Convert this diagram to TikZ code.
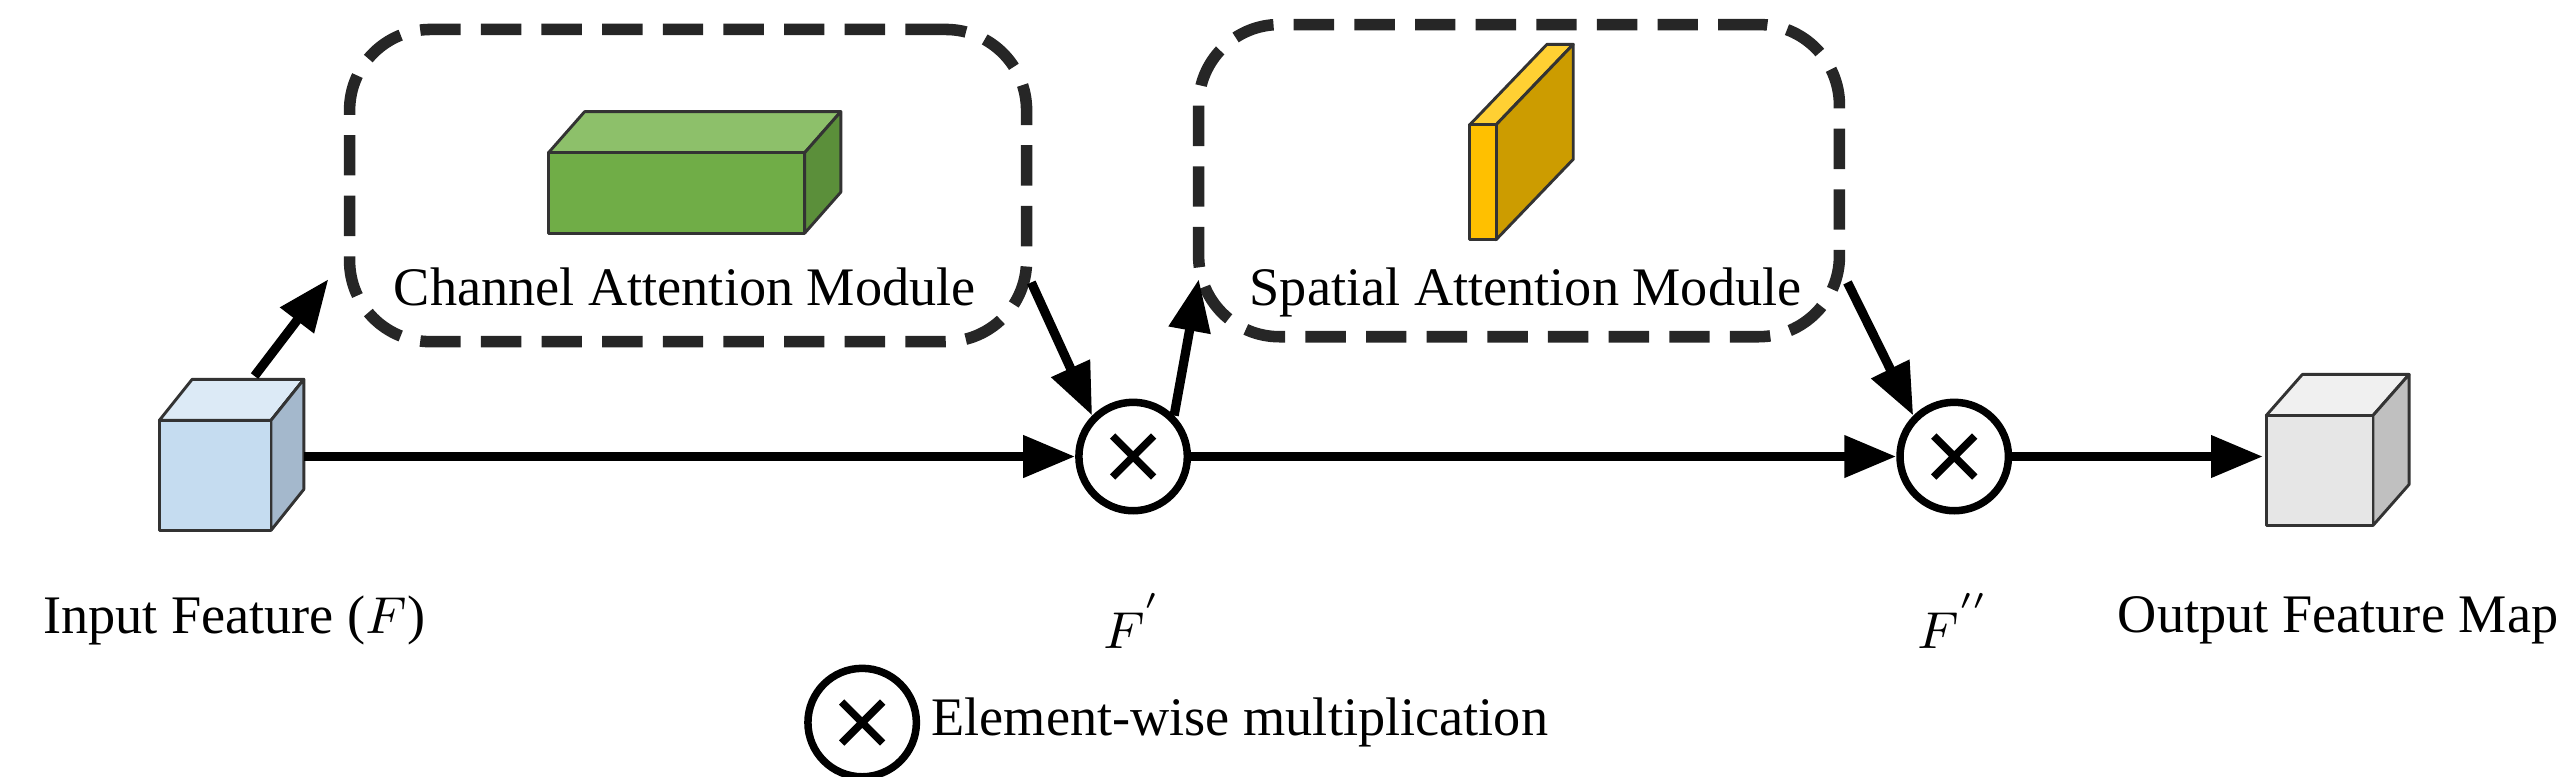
\documentclass[tikz,border=0pt]{standalone}
\usepackage{fontspec}
\setmainfont{Liberation Serif}
\usetikzlibrary{arrows.meta,calc}
\definecolor{bluef}{HTML}{C5DCF0}\definecolor{bluet}{HTML}{DCEAF6}\definecolor{blues}{HTML}{A4B8CC}
\definecolor{greenf}{HTML}{70AD47}\definecolor{greent}{HTML}{8DC06A}\definecolor{greens}{HTML}{5B8F3A}
\definecolor{yelf}{HTML}{FFC000}\definecolor{yelt}{HTML}{FFD033}\definecolor{yels}{HTML}{CC9C00}
\definecolor{grayf}{HTML}{E6E6E6}\definecolor{grayt}{HTML}{F0F0F0}\definecolor{grays}{HTML}{C0C0C0}
\tikzset{
  face/.style={draw=black!80, line width=0.5pt, line join=round},
  module/.style={draw=black!85, line width=2pt, dash pattern=on 7pt off 3.5pt, rounded corners=14pt},
  conn/.style={-{Triangle[length=9pt,width=7pt]}, line width=1.6pt},
  mult/.style={circle, draw, line width=1.3pt, minimum size=0.66cm, inner sep=0pt, fill=white},
  lbl/.style={font=\fontsize{9.4}{11}\selectfont, inner sep=1pt},
}
% cuboid: front lower-left (#1,#2), width #3, height #4, depth (#5,#6), colours front/top/side #7/#8/#9
\newcommand{\mycuboid}[9]{%
  \fill[#8] (#1,#2+#4) -- ++(#5,#6) -- ++(#3,0) -- ++(-#5,-#6) -- cycle;
  \draw[face] (#1,#2+#4) -- ++(#5,#6) -- ++(#3,0) -- ++(-#5,-#6) -- cycle;
  \fill[#9] (#1+#3,#2) -- ++(#5,#6) -- ++(0,#4) -- ++(-#5,-#6) -- cycle;
  \draw[face] (#1+#3,#2) -- ++(#5,#6) -- ++(0,#4) -- ++(-#5,-#6) -- cycle;
  \fill[#7] (#1,#2) rectangle ++(#3,#4);
  \draw[face] (#1,#2) rectangle ++(#3,#4);
}
\newcommand{\mycross}[1]{%
  \draw[line width=1.3pt] ($(#1)!0.5!(#1.north west)$) -- ($(#1)!0.5!(#1.south east)$)
    ($(#1)!0.5!(#1.north east)$) -- ($(#1)!0.5!(#1.south west)$);
}
\begin{document}
\begin{tikzpicture}[x=0.01cm,y=0.01cm]
\useasboundingbox (0,0) rectangle (1568,473);
% module boxes
\node[module, minimum width=4.12cm, minimum height=1.9cm] (cam) at (419,360) {};
\node[module, minimum width=3.9cm, minimum height=1.9cm] (sam) at (925,363) {};
\node[lbl] (camt) at (417,298) {Channel Attention Module};
\node[lbl] (samt) at (929,295) {Spatial Attention Module};
% cuboids
\mycuboid{97}{150}{68}{67}{20}{25}{bluef}{bluet}{blues}
\mycuboid{334}{331}{156}{49}{22}{25}{greenf}{greent}{greens}
\mycuboid{895}{327}{16}{70}{47}{49}{yelf}{yelt}{yels}
\mycuboid{1380}{153}{65}{67}{22}{25}{grayf}{grayt}{grays}
\coordinate (inR) at (185,195);
\coordinate (inT) at (155,244);
\coordinate (outL) at (1378,195);
% multiplications
\node[mult] (m1) at (690,195) {};
\node[mult] (m2) at (1190,195) {};
\node[mult] (leg) at (525,33) {};
\mycross{m1}\mycross{m2}\mycross{leg}
% labels
\node[lbl, anchor=west] (l1) at (22,95) {Input Feature ($F$)};
\node[lbl] (l2) at (690,95) {$F^{'}$};
\node[lbl] (l3) at (1190,95) {$F^{''}$};
\node[lbl, anchor=east] (l4) at (1562,95) {Output Feature Map};
\node[lbl, anchor=west] (l5) at (563,33) {Element-wise multiplication};
% connectors
\draw[conn] (inR) -- (m1);
\draw[conn] (m1) -- (m2);
\draw[conn] (m2) -- (outL);
\draw[conn] (inT) -- (200,303);
\draw[conn] (628,301) -- (m1.north west);
\draw[conn] (m1.north east) -- (730,303);
\draw[conn] (1125,301) -- (m2.north west);
\end{tikzpicture}
\end{document}
